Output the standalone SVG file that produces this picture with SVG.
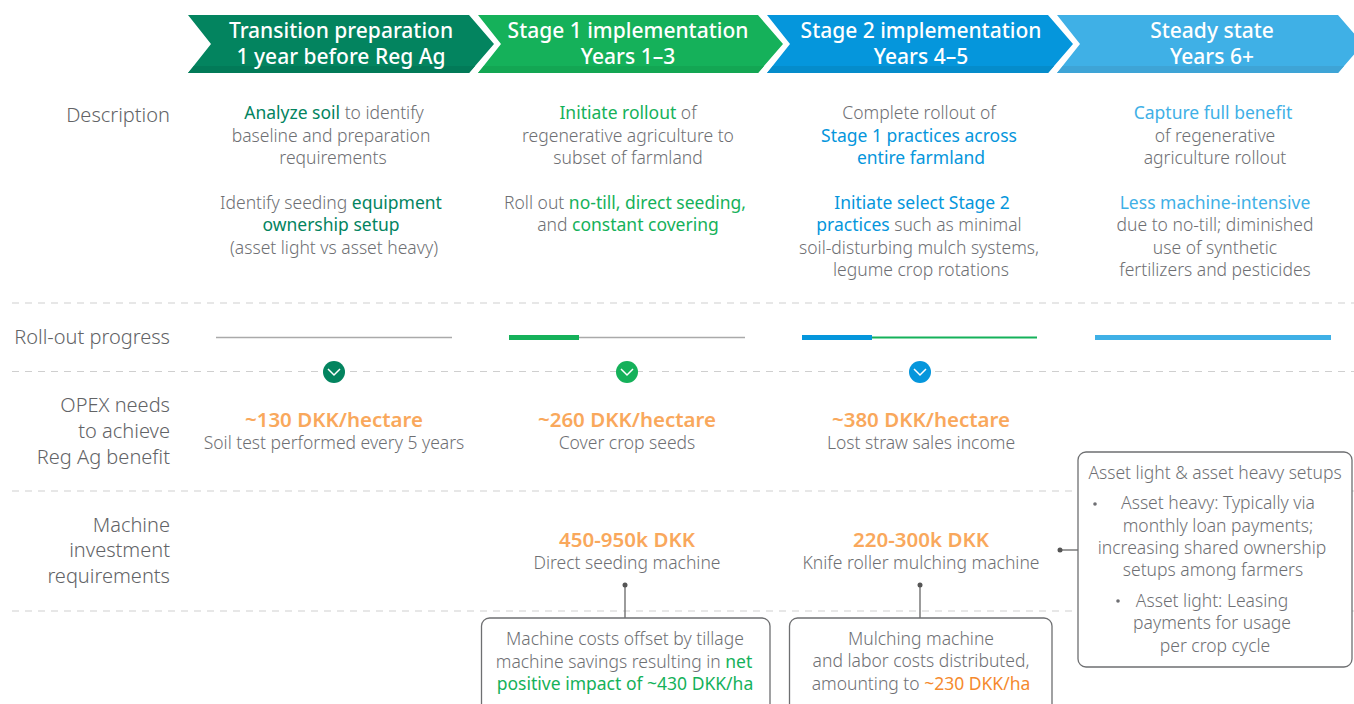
<svg xmlns="http://www.w3.org/2000/svg" width="1354" height="704" viewBox="0 0 1354 704">
<style>
text{font-family:"Noto Sans","Open Sans","Liberation Sans",sans-serif;font-size:17.5px;fill:#6e6f73;text-anchor:middle;font-weight:300}
.h{font-size:21px;fill:#fff;font-weight:500}
.l{font-size:20px;text-anchor:end;fill:#626366}
.o{font-size:20.5px;fill:#f9a85c;font-weight:600}
.dg{fill:#03845f;font-weight:400}.g{fill:#15b15a;font-weight:400}.b{fill:#0596dc;font-weight:400}.lb{fill:#3fb0e6;font-weight:400}.or{fill:#f58a2e;font-weight:400}
.dash{stroke:#cfcfcf;stroke-width:1;stroke-dasharray:7 6;fill:none}
.box{fill:#fff;stroke:#6e6f71;stroke-width:1.3}
.cn{stroke:#666;stroke-width:1.3;fill:none}
.dot{fill:#555}
.chk{fill:none;stroke:#fff;stroke-width:1.5}
</style>
<g id="separators">
<path class="dash" d="M12 303H1354M12 371.500H1354M12 491H1354M12 611H1354"/>
</g>
<g id="chevron-prep">
<polygon points="188,15 469,15 494,44 469,73 188,73 211,44" fill="#03845f"/>
<polygon points="188,73 469,73 475,66 194,66" fill="#027a58"/>
<text class="h" x="341" y="38">Transition preparation</text><text class="h" x="341" y="64">1 year before Reg Ag</text>
</g>
<g id="chevron-stage1">
<polygon points="478,15 758,15 783,44 758,73 478,73 501,44" fill="#15b15a"/>
<polygon points="478,73 758,73 764,66 484,66" fill="#13a653"/>
<text class="h" x="628" y="38">Stage 1 implementation</text><text class="h" x="628" y="64">Years 1–3</text>
</g>
<g id="chevron-stage2">
<polygon points="767,15 1048,15 1073,44 1048,73 767,73 790,44" fill="#0596dc"/>
<polygon points="767,73 1048,73 1054,66 773,66" fill="#058ccb"/>
<text class="h" x="921" y="38">Stage 2 implementation</text><text class="h" x="921" y="64">Years 4–5</text>
</g>
<g id="chevron-steady">
<polygon points="1057,15 1338,15 1363,44 1338,73 1057,73 1080,44" fill="#3fb0e6"/>
<polygon points="1057,73 1338,73 1344,66 1063,66" fill="#3ea4d6"/>
<text class="h" x="1212" y="38">Steady state</text><text class="h" x="1212" y="64">Years 6+</text>
</g>
<g id="row-labels">
<text class="l" x="170" y="122">Description</text>
<text class="l" x="170" y="344">Roll-out progress</text>
<text class="l" x="170" y="412">OPEX needs</text><text class="l" x="170" y="438">to achieve</text><text class="l" x="170" y="464">Reg Ag benefit</text>
<text class="l" x="170" y="532">Machine</text><text class="l" x="170" y="557">investment</text><text class="l" x="170" y="583">requirements</text>
</g>
<g id="desc-prep">
<text x="334" y="119"><tspan class="dg">Analyze soil</tspan> to identify</text>
<text x="331" y="142">baseline and preparation</text>
<text x="333" y="164">requirements</text>
<text x="331" y="209">Identify seeding <tspan class="dg">equipment</tspan></text>
<text x="331" y="231"><tspan class="dg">ownership setup</tspan></text>
<text x="334" y="254">(asset light vs asset heavy)</text>
</g>
<g id="desc-stage1">
<text x="628" y="119"><tspan class="g">Initiate rollout</tspan> of</text>
<text x="628" y="142">regenerative agriculture to</text>
<text x="628" y="164">subset of farmland</text>
<text x="625" y="209">Roll out <tspan class="g">no-till, direct seeding,</tspan></text>
<text x="628" y="231">and <tspan class="g">constant covering</tspan></text>
</g>
<g id="desc-stage2">
<text x="919" y="119">Complete rollout of</text>
<text x="919" y="142" class="b">Stage 1 practices across</text>
<text x="921" y="164" class="b">entire farmland</text>
<text x="922" y="209" class="b">Initiate select Stage 2</text>
<text x="919" y="231"><tspan class="b">practices</tspan> such as minimal</text>
<text x="919" y="254">soil-disturbing mulch systems,</text>
<text x="921" y="276">legume crop rotations</text>
</g>
<g id="desc-steady">
<text x="1213" y="119" class="lb">Capture full benefit</text>
<text x="1215" y="142">of regenerative</text>
<text x="1215" y="164">agriculture rollout</text>
<text x="1215" y="209" class="lb">Less machine-intensive</text>
<text x="1215" y="231">due to no-till; diminished</text>
<text x="1215" y="254">use of synthetic</text>
<text x="1215" y="276">fertilizers and pesticides</text>
</g>
<g id="progress">
<line x1="216" y1="337.500" x2="452" y2="337.500" stroke="#aaa" stroke-width="1.500"/>
<line x1="579" y1="337.500" x2="745" y2="337.500" stroke="#aaa" stroke-width="1.500"/>
<rect x="509" y="335" width="70" height="5" fill="#15b15a"/>
<line x1="871" y1="337.500" x2="1037" y2="337.500" stroke="#15b15a" stroke-width="2"/>
<rect x="802" y="335" width="70" height="5" fill="#0596dc"/>
<rect x="1095" y="335" width="236" height="5" fill="#3fb0e6"/>
</g>
<g id="marker-prep"><circle cx="334" cy="372" r="11" fill="#03845f"/><path class="chk" d="M328 369l6 6 6-6"/></g>
<g id="marker-stage1"><circle cx="627" cy="372" r="11" fill="#15b15a"/><path class="chk" d="M621 369l6 6 6-6"/></g>
<g id="marker-stage2"><circle cx="920" cy="372" r="11" fill="#0596dc"/><path class="chk" d="M914 369l6 6 6-6"/></g>
<g id="opex-prep"><text class="o" x="334" y="427">~130 DKK/hectare</text><text x="334" y="449">Soil test performed every 5 years</text></g>
<g id="opex-stage1"><text class="o" x="627" y="427">~260 DKK/hectare</text><text x="627" y="449">Cover crop seeds</text></g>
<g id="opex-stage2"><text class="o" x="921" y="427">~380 DKK/hectare</text><text x="921" y="449">Lost straw sales income</text></g>
<g id="machine-stage1"><text class="o" x="627" y="547">450-950k DKK</text><text x="627" y="569">Direct seeding machine</text></g>
<g id="machine-stage2"><text class="o" x="921" y="547">220-300k DKK</text><text x="921" y="569">Knife roller mulching machine</text></g>
<g id="connectors">
<line class="cn" x1="625" y1="585" x2="625" y2="618"/><circle class="dot" cx="625" cy="585" r="2.500"/>
<line class="cn" x1="920" y1="585" x2="920" y2="618"/><circle class="dot" cx="920" cy="585" r="2.500"/>
<line class="cn" x1="1060" y1="550" x2="1078" y2="550"/><circle class="dot" cx="1060" cy="550" r="2.500"/>
</g>
<g id="note-stage1">
<path class="box" d="M481.500 704V626a8 8 0 0 1 8-8H762a8 8 0 0 1 8 8V704"/>
<text x="625" y="645">Machine costs offset by tillage</text>
<text x="624" y="668">machine savings resulting in <tspan class="g">net</tspan></text>
<text x="625" y="690" class="g">positive impact of ~430 DKK/ha</text>
</g>
<g id="note-stage2">
<path class="box" d="M789.500 704V626a8 8 0 0 1 8-8H1044a8 8 0 0 1 8 8V704"/>
<text x="921" y="645">Mulching machine</text>
<text x="921" y="667">and labor costs distributed,</text>
<text x="921" y="690">amounting to <tspan class="or">~230 DKK/ha</tspan></text>
</g>
<g id="note-setups">
<rect class="box" x="1078" y="452" width="274" height="215" rx="8"/>
<text x="1215" y="479">Asset light &amp; asset heavy setups</text>
<circle cx="1095" cy="504" r="1.800" fill="#6e6f73"/>
<text x="1218" y="509">Asset heavy: Typically via</text>
<text x="1218" y="532">monthly loan payments;</text>
<text x="1212" y="554">increasing shared ownership</text>
<text x="1213" y="576">setups among farmers</text>
<circle cx="1118" cy="601" r="1.800" fill="#6e6f73"/>
<text x="1212" y="607">Asset light: Leasing</text>
<text x="1212" y="629">payments for usage</text>
<text x="1215" y="652">per crop cycle</text>
</g>
</svg>
